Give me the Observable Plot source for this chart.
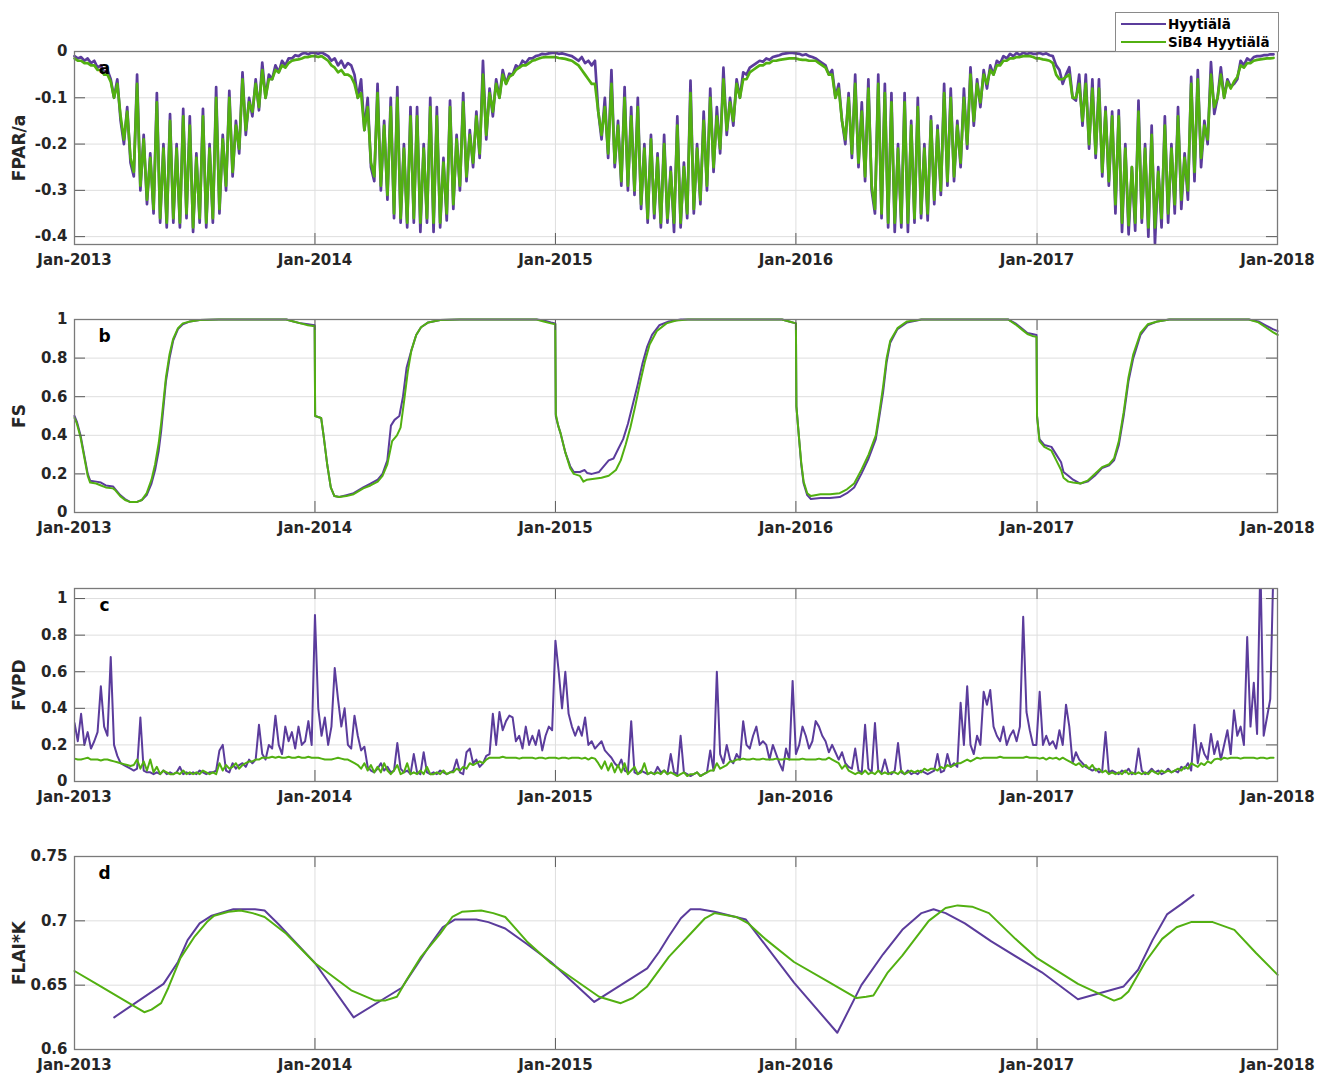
<!DOCTYPE html>
<html>
<head>
<meta charset="utf-8">
<script src="https://cdn.jsdelivr.net/npm/d3@7"></script>
<script src="https://cdn.jsdelivr.net/npm/@observablehq/plot@0.6"></script>
<style>
  html, body { margin: 0; padding: 0; background: #fff; }
  #page { position: relative; width: 1317px; height: 1074px; overflow: hidden; background: #fff; font-family: "DejaVu Sans", sans-serif; }
  .panel { position: absolute; left: 0; }
  #legend { position: absolute; left: 1115px; top: 12px; width: 162px; height: 38px; border: 1px solid #8a8a8a; background: #fff; z-index: 5; font: bold 13.5px "DejaVu Sans", sans-serif; color: #000; }
  .row { position: absolute; left: 0; height: 18px; }
  .sw { position: absolute; left: 5px; width: 45px; height: 0; border-top: 2px solid; }
  .lab { position: absolute; left: 52px; white-space: nowrap; line-height: 18px; }
</style>
</head>
<body>
<div id="page"></div>
<script>
// ---------------- data ----------------
const seriesNames = ["Hyytiälä", "SiB4 Hyytiälä"];
const colors = ["#5b3c9c", "#52b011"];
const yearTicks = [2013, 2014, 2015, 2016, 2017, 2018];
const stepDays = 5; // spacing of the sampled noisy series, starting 1 Jan 2013

// panel a: FPAR/a (5-day samples)
const fparObs = [
-0.01,-0.015,-0.012,-0.02,-0.015,-0.025, -0.02,-0.035,-0.03,-0.045,-0.04,-0.06, -0.1,-0.06,-0.15,-0.2,-0.12,-0.24,
-0.27,-0.05,-0.3,-0.18,-0.33,-0.22, -0.35,-0.09,-0.37,-0.2,-0.38,-0.135, -0.37,-0.2,-0.38,-0.124,-0.36,-0.14,
-0.39,-0.22,-0.37,-0.124,-0.38,-0.2, -0.37,-0.077,-0.35,-0.18,-0.3,-0.085, -0.27,-0.15,-0.22,-0.045,-0.18,-0.1,
-0.14,-0.06,-0.127,-0.024,-0.1,-0.05, -0.06,-0.03,-0.045,-0.02,-0.03,-0.015, -0.015,-0.008,-0.01,-0.005,-0.003,-0.006,-0.002,
-0.003,-0.005,-0.002,-0.006,-0.01,-0.02, -0.015,-0.03,-0.02,-0.035,-0.025,-0.03, -0.05,-0.1,-0.06,-0.17,-0.1,-0.25,
-0.28,-0.07,-0.3,-0.15,-0.32,-0.1, -0.36,-0.077,-0.37,-0.2,-0.38,-0.12, -0.37,-0.12,-0.39,-0.2,-0.37,-0.1,
-0.39,-0.12,-0.38,-0.23,-0.365,-0.106, -0.34,-0.18,-0.3,-0.09,-0.28,-0.17, -0.25,-0.13,-0.23,-0.02,-0.19,-0.08,
-0.14,-0.06,-0.1,-0.04,-0.07,-0.048, -0.05,-0.03,-0.035,-0.02,-0.025,-0.015, -0.015,-0.01,-0.008,-0.005,-0.006,-0.004,-0.003,
-0.003,-0.005,-0.004,-0.006,-0.008,-0.01, -0.015,-0.02,-0.012,-0.025,-0.02,-0.03, -0.02,-0.13,-0.19,-0.1,-0.23,-0.04,
-0.25,-0.15,-0.29,-0.077,-0.3,-0.12, -0.31,-0.1,-0.34,-0.2,-0.37,-0.18, -0.36,-0.22,-0.38,-0.18,-0.37,-0.25,
-0.39,-0.14,-0.38,-0.24,-0.36,-0.063, -0.35,-0.2,-0.33,-0.13,-0.3,-0.08, -0.26,-0.12,-0.22,-0.035,-0.18,-0.1,
-0.16,-0.06,-0.1,-0.045,-0.05,-0.035, -0.03,-0.025,-0.02,-0.022,-0.015,-0.018, -0.012,-0.01,-0.008,-0.005,-0.004,-0.003,-0.003,
-0.004,-0.005,-0.008,-0.006,-0.01,-0.012, -0.015,-0.02,-0.025,-0.03,-0.05,-0.04, -0.1,-0.07,-0.15,-0.2,-0.09,-0.23,
-0.05,-0.25,-0.11,-0.28,-0.06,-0.3, -0.35,-0.05,-0.36,-0.07,-0.38,-0.09, -0.39,-0.2,-0.38,-0.09,-0.39,-0.15,
-0.37,-0.1,-0.36,-0.2,-0.365,-0.14, -0.33,-0.16,-0.31,-0.07,-0.29,-0.08, -0.28,-0.15,-0.25,-0.08,-0.21,-0.034,
-0.16,-0.06,-0.12,-0.04,-0.08,-0.03, -0.05,-0.02,-0.026,-0.01,-0.015,-0.005, -0.01,-0.003,-0.008,-0.002,-0.006,-0.003,-0.005,
-0.005,-0.003,-0.006,-0.004,-0.008,-0.01, -0.03,-0.04,-0.07,-0.05,-0.034,-0.1, -0.106,-0.05,-0.16,-0.05,-0.21,-0.06,
-0.23,-0.06,-0.27,-0.12,-0.29,-0.13, -0.35,-0.127,-0.39,-0.2,-0.395,-0.25, -0.387,-0.106,-0.37,-0.2,-0.4,-0.16,
-0.415,-0.25,-0.38,-0.14,-0.37,-0.2, -0.35,-0.12,-0.34,-0.22,-0.32,-0.055, -0.28,-0.04,-0.25,-0.15,-0.2,-0.023,
-0.135,-0.1,-0.034,-0.1,-0.06,-0.077, -0.07,-0.06,-0.02,-0.03,-0.015,-0.02, -0.012,-0.01,-0.01,-0.008,-0.008,-0.006,-0.006
];
const fparSib = [
-0.015,-0.02,-0.02,-0.025,-0.025,-0.03, -0.03,-0.04,-0.04,-0.05,-0.05,-0.065, -0.1,-0.07,-0.14,-0.19,-0.13,-0.23,
-0.26,-0.07,-0.29,-0.19,-0.32,-0.23, -0.34,-0.11,-0.36,-0.21,-0.37,-0.15, -0.36,-0.21,-0.37,-0.14,-0.35,-0.16,
-0.38,-0.23,-0.36,-0.14,-0.37,-0.21, -0.36,-0.1,-0.34,-0.19,-0.29,-0.1, -0.26,-0.16,-0.21,-0.06,-0.17,-0.11,
-0.13,-0.07,-0.12,-0.04,-0.1,-0.06, -0.06,-0.04,-0.045,-0.03,-0.035,-0.025, -0.02,-0.018,-0.017,-0.015,-0.012,-0.012,-0.01,
-0.01,-0.012,-0.01,-0.015,-0.02,-0.03, -0.035,-0.045,-0.04,-0.05,-0.05,-0.055, -0.07,-0.1,-0.09,-0.17,-0.12,-0.24,
-0.27,-0.09,-0.29,-0.16,-0.31,-0.12, -0.35,-0.1,-0.36,-0.21,-0.37,-0.14, -0.36,-0.14,-0.37,-0.21,-0.36,-0.12,
-0.37,-0.14,-0.37,-0.24,-0.35,-0.12, -0.33,-0.19,-0.29,-0.11,-0.27,-0.18, -0.24,-0.14,-0.22,-0.05,-0.18,-0.09,
-0.13,-0.07,-0.1,-0.05,-0.07,-0.055, -0.05,-0.04,-0.035,-0.03,-0.03,-0.025, -0.02,-0.018,-0.015,-0.013,-0.012,-0.012,-0.012,
-0.012,-0.014,-0.015,-0.016,-0.018,-0.02, -0.025,-0.03,-0.04,-0.05,-0.06,-0.07, -0.07,-0.13,-0.18,-0.12,-0.22,-0.07,
-0.24,-0.16,-0.28,-0.1,-0.29,-0.14, -0.3,-0.12,-0.33,-0.21,-0.36,-0.19, -0.35,-0.23,-0.37,-0.2,-0.36,-0.26,
-0.37,-0.16,-0.37,-0.25,-0.35,-0.09, -0.34,-0.21,-0.32,-0.15,-0.29,-0.1, -0.25,-0.14,-0.21,-0.06,-0.17,-0.11,
-0.15,-0.07,-0.1,-0.06,-0.06,-0.045, -0.04,-0.035,-0.03,-0.03,-0.025,-0.025, -0.02,-0.02,-0.018,-0.017,-0.016,-0.015,-0.015,
-0.015,-0.017,-0.018,-0.018,-0.02,-0.02, -0.02,-0.025,-0.03,-0.035,-0.05,-0.05, -0.1,-0.08,-0.15,-0.19,-0.1,-0.22,
-0.07,-0.24,-0.13,-0.27,-0.08,-0.29, -0.34,-0.07,-0.35,-0.09,-0.37,-0.11, -0.37,-0.21,-0.37,-0.11,-0.37,-0.16,
-0.36,-0.12,-0.35,-0.21,-0.35,-0.15, -0.32,-0.17,-0.3,-0.09,-0.28,-0.1, -0.27,-0.16,-0.24,-0.1,-0.2,-0.05,
-0.15,-0.07,-0.11,-0.05,-0.07,-0.04, -0.05,-0.03,-0.03,-0.02,-0.02,-0.015, -0.015,-0.012,-0.012,-0.01,-0.01,-0.01,-0.012,
-0.015,-0.015,-0.017,-0.018,-0.02,-0.025, -0.05,-0.06,-0.06,-0.055,-0.05,-0.1, -0.1,-0.07,-0.15,-0.07,-0.2,-0.08,
-0.22,-0.08,-0.26,-0.13,-0.28,-0.14, -0.33,-0.14,-0.37,-0.21,-0.375,-0.25, -0.37,-0.13,-0.36,-0.21,-0.38,-0.18,
-0.38,-0.26,-0.36,-0.16,-0.35,-0.21, -0.33,-0.14,-0.32,-0.23,-0.3,-0.07, -0.26,-0.06,-0.23,-0.16,-0.19,-0.05,
-0.12,-0.1,-0.05,-0.1,-0.065,-0.08, -0.065,-0.055,-0.03,-0.035,-0.025,-0.025, -0.02,-0.018,-0.017,-0.016,-0.015,-0.015,-0.014
];

// panel b: FS (decimal year, value)
const fsObsYear = [2013,2013.01,2013.025,2013.04,2013.055,2013.065,2013.09,2013.11,2013.13,2013.16,2013.17,2013.19,2013.21,2013.23,2013.26,2013.28,2013.3,2013.32,2013.335,2013.35,2013.36,2013.37,2013.38,2013.395,2013.41,2013.43,2013.45,2013.48,2013.52,2013.6,2013.88,2013.91,2013.94,2013.97,2013.998,
2014,2014.025,2014.035,2014.05,2014.065,2014.08,2014.1,2014.13,2014.16,2014.2,2014.23,2014.26,2014.28,2014.3,2014.315,2014.33,2014.35,2014.365,2014.38,2014.4,2014.42,2014.44,2014.47,2014.52,2014.6,2014.92,2014.95,2014.98,2014.998,
2015,2015.01,2015.02,2015.04,2015.06,2015.075,2015.1,2015.12,2015.13,2015.15,2015.18,2015.2,2015.22,2015.24,2015.26,2015.28,2015.3,2015.32,2015.34,2015.36,2015.38,2015.4,2015.43,2015.47,2015.52,2015.94,2015.97,2015.998,
2016,2016.01,2016.02,2016.03,2016.045,2016.06,2016.1,2016.14,2016.18,2016.21,2016.24,2016.27,2016.3,2016.33,2016.345,2016.36,2016.375,2016.39,2016.42,2016.46,2016.52,2016.88,2016.91,2016.94,2016.96,2016.98,2016.998,
2017,2017.01,2017.03,2017.06,2017.08,2017.1,2017.11,2017.13,2017.15,2017.18,2017.21,2017.24,2017.27,2017.3,2017.32,2017.34,2017.36,2017.38,2017.4,2017.43,2017.46,2017.5,2017.55,2017.88,2017.92,2017.95,2017.98,2018];
const fsObs = [0.5,0.47,0.4,0.3,0.2,0.165,0.16,0.155,0.14,0.135,0.12,0.09,0.07,0.055,0.055,0.065,0.09,0.15,0.22,0.32,0.42,0.55,0.68,0.8,0.89,0.95,0.975,0.99,0.997,1,1,0.99,0.98,0.975,0.97,
0.5,0.49,0.4,0.25,0.13,0.085,0.08,0.09,0.1,0.13,0.15,0.17,0.2,0.27,0.45,0.48,0.5,0.6,0.75,0.84,0.92,0.96,0.985,0.997,1,1,0.995,0.985,0.98,
0.5,0.45,0.41,0.31,0.24,0.21,0.21,0.22,0.205,0.2,0.21,0.24,0.27,0.28,0.33,0.38,0.46,0.56,0.66,0.77,0.86,0.92,0.97,0.99,1,1,0.99,0.98,
0.55,0.4,0.25,0.15,0.09,0.07,0.075,0.075,0.08,0.1,0.13,0.2,0.28,0.38,0.5,0.62,0.78,0.88,0.95,0.985,1,1,0.98,0.95,0.93,0.925,0.92,
0.5,0.38,0.35,0.34,0.3,0.26,0.21,0.19,0.17,0.15,0.16,0.19,0.23,0.245,0.27,0.35,0.5,0.68,0.8,0.92,0.97,0.99,1,1,0.99,0.97,0.95,0.94];
const fsSibYear = [2013,2013.01,2013.025,2013.04,2013.055,2013.065,2013.09,2013.11,2013.13,2013.16,2013.17,2013.19,2013.21,2013.23,2013.26,2013.28,2013.3,2013.32,2013.335,2013.35,2013.36,2013.37,2013.38,2013.395,2013.41,2013.43,2013.45,2013.48,2013.52,2013.6,2013.88,2013.91,2013.94,2013.97,2013.998,
2014,2014.025,2014.035,2014.05,2014.065,2014.08,2014.1,2014.13,2014.16,2014.2,2014.23,2014.26,2014.28,2014.3,2014.32,2014.34,2014.355,2014.37,2014.385,2014.4,2014.42,2014.44,2014.47,2014.52,2014.6,2014.92,2014.95,2014.98,2014.998,
2015,2015.01,2015.02,2015.04,2015.06,2015.075,2015.1,2015.115,2015.13,2015.16,2015.19,2015.22,2015.25,2015.27,2015.29,2015.31,2015.33,2015.35,2015.37,2015.39,2015.42,2015.46,2015.5,2015.55,2015.94,2015.97,2015.998,
2016,2016.01,2016.02,2016.03,2016.045,2016.06,2016.1,2016.14,2016.18,2016.21,2016.24,2016.27,2016.3,2016.33,2016.345,2016.36,2016.375,2016.39,2016.42,2016.46,2016.52,2016.88,2016.91,2016.94,2016.96,2016.98,2016.998,
2017,2017.01,2017.03,2017.06,2017.08,2017.1,2017.11,2017.13,2017.15,2017.18,2017.21,2017.24,2017.27,2017.3,2017.32,2017.34,2017.36,2017.38,2017.4,2017.43,2017.46,2017.5,2017.55,2017.88,2017.92,2017.95,2017.98,2018];
const fsSib = [0.49,0.46,0.39,0.29,0.19,0.155,0.15,0.14,0.13,0.125,0.115,0.085,0.065,0.055,0.055,0.065,0.1,0.17,0.25,0.36,0.46,0.58,0.7,0.82,0.9,0.955,0.98,0.99,0.997,1,1,0.99,0.98,0.97,0.965,
0.5,0.49,0.4,0.25,0.13,0.085,0.08,0.085,0.095,0.125,0.14,0.16,0.19,0.25,0.37,0.4,0.44,0.58,0.73,0.84,0.92,0.96,0.985,0.997,1,1,0.99,0.98,0.975,
0.51,0.45,0.41,0.31,0.23,0.2,0.19,0.16,0.17,0.175,0.18,0.19,0.22,0.27,0.35,0.44,0.55,0.67,0.78,0.87,0.94,0.98,0.995,1,1,0.99,0.98,
0.55,0.4,0.26,0.16,0.1,0.085,0.095,0.095,0.1,0.12,0.15,0.22,0.3,0.4,0.52,0.65,0.8,0.89,0.955,0.99,1,1,0.975,0.945,0.925,0.915,0.91,
0.5,0.37,0.34,0.32,0.27,0.22,0.18,0.16,0.155,0.15,0.165,0.2,0.235,0.25,0.28,0.37,0.52,0.7,0.82,0.93,0.975,0.99,1,1,0.985,0.96,0.935,0.92];

// panel c: FVPD (5-day samples)
const fvpdObs = [
0.32,0.22,0.37,0.2,0.27,0.18, 0.22,0.27,0.52,0.3,0.25,0.68, 0.2,0.14,0.1,0.09,0.08,0.07,
0.06,0.07,0.35,0.06,0.05,0.05, 0.04,0.05,0.04,0.06,0.04,0.05, 0.04,0.05,0.08,0.04,0.05,0.04,
0.05,0.04,0.06,0.05,0.04,0.05, 0.05,0.06,0.17,0.2,0.06,0.05, 0.1,0.07,0.09,0.1,0.08,0.12,
0.1,0.12,0.31,0.15,0.12,0.2, 0.18,0.36,0.2,0.15,0.3,0.22, 0.27,0.18,0.3,0.2,0.22,0.33,0.2,
0.91,0.4,0.25,0.35,0.2,0.3, 0.62,0.45,0.3,0.4,0.2,0.18, 0.36,0.25,0.17,0.19,0.08,0.06,
0.05,0.07,0.1,0.06,0.08,0.05, 0.06,0.21,0.07,0.05,0.06,0.04, 0.15,0.05,0.04,0.16,0.05,0.04,
0.05,0.04,0.06,0.05,0.04,0.05, 0.06,0.12,0.05,0.04,0.16,0.18, 0.1,0.12,0.08,0.1,0.14,0.15,
0.37,0.2,0.38,0.28,0.33,0.36, 0.35,0.22,0.25,0.18,0.3,0.2, 0.25,0.2,0.28,0.17,0.25,0.3,0.28,
0.77,0.6,0.4,0.6,0.37,0.3, 0.25,0.3,0.25,0.35,0.2,0.22, 0.18,0.2,0.22,0.17,0.15,0.13,
0.1,0.08,0.12,0.06,0.05,0.33, 0.05,0.04,0.06,0.05,0.04,0.05, 0.04,0.08,0.05,0.06,0.04,0.15,
0.05,0.04,0.25,0.05,0.04,0.03, 0.04,0.05,0.03,0.04,0.05,0.17, 0.06,0.6,0.15,0.1,0.2,0.12,
0.1,0.15,0.12,0.33,0.2,0.18, 0.25,0.3,0.2,0.22,0.2,0.12, 0.2,0.15,0.1,0.06,0.18,0.12,0.55,
0.15,0.2,0.3,0.25,0.18,0.22, 0.33,0.3,0.25,0.22,0.16,0.2, 0.16,0.12,0.16,0.1,0.08,0.07,
0.18,0.06,0.05,0.31,0.07,0.05, 0.32,0.06,0.05,0.12,0.05,0.04, 0.06,0.21,0.05,0.04,0.06,0.04,
0.05,0.04,0.06,0.05,0.04,0.05, 0.06,0.15,0.05,0.06,0.15,0.08, 0.1,0.08,0.43,0.2,0.52,0.2,
0.15,0.25,0.2,0.49,0.42,0.5, 0.3,0.25,0.22,0.3,0.2,0.25, 0.28,0.22,0.3,0.9,0.38,0.28,0.2,
0.2,0.49,0.2,0.25,0.2,0.22, 0.18,0.28,0.2,0.42,0.3,0.1, 0.16,0.12,0.1,0.08,0.07,0.06,
0.07,0.05,0.06,0.27,0.05,0.06, 0.05,0.04,0.06,0.05,0.07,0.04, 0.05,0.18,0.06,0.04,0.05,0.07,
0.05,0.06,0.04,0.05,0.07,0.05, 0.06,0.05,0.08,0.07,0.1,0.06, 0.31,0.1,0.21,0.15,0.12,0.26,
0.15,0.22,0.12,0.2,0.28,0.15, 0.39,0.25,0.3,0.2,0.79,0.3, 0.54,0.26,1.2,0.25,0.35,0.45,1.2
];
const fvpdSib = [
0.125,0.12,0.12,0.125,0.13,0.12, 0.12,0.12,0.115,0.12,0.12,0.115, 0.11,0.105,0.1,0.095,0.09,0.085,
0.09,0.12,0.07,0.11,0.06,0.12, 0.05,0.08,0.04,0.06,0.05,0.04, 0.04,0.05,0.04,0.06,0.04,0.05,
0.04,0.05,0.04,0.06,0.05,0.04, 0.05,0.04,0.1,0.06,0.09,0.07, 0.08,0.1,0.07,0.09,0.1,0.11,
0.11,0.12,0.12,0.13,0.13,0.13, 0.135,0.13,0.135,0.13,0.13,0.135, 0.13,0.13,0.135,0.13,0.13,0.135,0.13,
0.13,0.13,0.125,0.12,0.12,0.12, 0.125,0.13,0.125,0.12,0.12,0.11, 0.1,0.09,0.07,0.1,0.06,0.09,
0.05,0.08,0.05,0.1,0.06,0.04, 0.06,0.09,0.04,0.05,0.1,0.04, 0.05,0.04,0.06,0.04,0.08,0.04,
0.04,0.05,0.04,0.06,0.04,0.05, 0.05,0.07,0.06,0.08,0.07,0.1, 0.09,0.1,0.11,0.1,0.12,0.13,
0.13,0.13,0.13,0.135,0.13,0.13, 0.13,0.13,0.125,0.13,0.13,0.13, 0.13,0.125,0.13,0.13,0.125,0.13,0.13,
0.13,0.125,0.13,0.13,0.125,0.13, 0.13,0.13,0.125,0.13,0.12,0.13, 0.125,0.1,0.07,0.11,0.06,0.1,
0.05,0.09,0.05,0.1,0.04,0.06, 0.08,0.04,0.05,0.1,0.04,0.05, 0.04,0.05,0.04,0.06,0.04,0.05,
0.04,0.03,0.04,0.05,0.03,0.04, 0.04,0.05,0.03,0.04,0.05,0.06, 0.06,0.1,0.07,0.08,0.09,0.11,
0.11,0.12,0.12,0.125,0.12,0.12, 0.125,0.12,0.12,0.125,0.12,0.12, 0.12,0.125,0.12,0.12,0.125,0.12,0.12,
0.12,0.12,0.125,0.12,0.12,0.12, 0.12,0.125,0.12,0.12,0.13,0.12, 0.11,0.1,0.07,0.09,0.06,0.05,
0.04,0.05,0.04,0.06,0.04,0.05, 0.04,0.06,0.04,0.05,0.04,0.05, 0.05,0.04,0.06,0.04,0.05,0.06,
0.05,0.06,0.05,0.07,0.06,0.07, 0.07,0.06,0.08,0.07,0.09,0.08, 0.09,0.1,0.1,0.11,0.12,0.11,
0.12,0.13,0.125,0.13,0.13,0.13, 0.13,0.13,0.135,0.13,0.13,0.13, 0.13,0.13,0.13,0.13,0.135,0.13,0.13,
0.13,0.125,0.13,0.12,0.13,0.125, 0.13,0.12,0.13,0.12,0.11,0.1, 0.09,0.1,0.08,0.09,0.07,0.09,
0.06,0.07,0.05,0.06,0.04,0.05, 0.04,0.05,0.04,0.06,0.04,0.05, 0.04,0.05,0.04,0.05,0.04,0.06,
0.05,0.04,0.06,0.05,0.06,0.05, 0.06,0.07,0.06,0.08,0.07,0.1, 0.09,0.08,0.1,0.09,0.11,0.1,
0.12,0.125,0.12,0.13,0.125,0.13, 0.13,0.13,0.125,0.13,0.13,0.13, 0.13,0.125,0.13,0.13,0.125,0.13,0.13
];

// panel d: FLAI*K (decimal year, value)
const flaiObsYear = [2013.165,2013.37,2013.43,2013.47,2013.52,2013.57,2013.66,2013.75,2013.79,2013.85,2013.91,2014,2014.16,2014.36,2014.42,2014.48,2014.53,2014.58,2014.67,2014.72,2014.79,2014.88,2014.98,2015.16,2015.38,2015.43,2015.47,2015.52,2015.56,2015.6,2015.66,2015.79,2015.99,2016.17,2016.27,2016.36,2016.44,2016.52,2016.57,2016.62,2016.7,2016.81,2017.02,2017.17,2017.36,2017.42,2017.48,2017.54,2017.6,2017.65];
const flaiObs = [0.625,0.651,0.668,0.685,0.698,0.704,0.709,0.709,0.708,0.697,0.685,0.667,0.625,0.648,0.665,0.682,0.695,0.701,0.701,0.699,0.694,0.682,0.668,0.637,0.663,0.676,0.688,0.702,0.709,0.709,0.707,0.701,0.652,0.613,0.65,0.674,0.693,0.706,0.709,0.706,0.698,0.684,0.66,0.639,0.649,0.662,0.685,0.705,0.713,0.72];
const flaiSibYear = [2013,2013.1,2013.2,2013.29,2013.32,2013.36,2013.39,2013.44,2013.5,2013.55,2013.58,2013.64,2013.69,2013.74,2013.79,2013.88,2014,2014.15,2014.25,2014.29,2014.34,2014.38,2014.44,2014.52,2014.57,2014.61,2014.69,2014.74,2014.79,2014.88,2014.98,2015.18,2015.27,2015.32,2015.38,2015.47,2015.56,2015.62,2015.66,2015.75,2015.8,2015.87,2015.99,2016.13,2016.25,2016.29,2016.32,2016.38,2016.44,2016.55,2016.62,2016.67,2016.73,2016.8,2016.91,2017,2017.17,2017.32,2017.35,2017.38,2017.45,2017.52,2017.58,2017.64,2017.73,2017.82,2017.91,2018];
const flaiSib = [0.661,0.65,0.639,0.629,0.631,0.636,0.648,0.671,0.688,0.699,0.704,0.707,0.708,0.706,0.703,0.69,0.667,0.646,0.638,0.638,0.641,0.654,0.672,0.69,0.703,0.707,0.708,0.706,0.703,0.684,0.667,0.641,0.636,0.64,0.649,0.672,0.69,0.702,0.706,0.703,0.698,0.686,0.668,0.653,0.64,0.641,0.642,0.66,0.673,0.7,0.71,0.712,0.711,0.706,0.686,0.671,0.651,0.638,0.64,0.645,0.668,0.686,0.695,0.699,0.699,0.693,0.675,0.658];

// ---------------- helpers ----------------
const DAY = 864e5;
const t0 = Date.UTC(2013, 0, 1);
const sampled = (vals) => vals.map((v, i) => ({date: new Date(t0 + i * stepDays * DAY), value: v}));
const byYear = (ts, vs) => ts.map((t, i) => ({date: new Date(t0 + (t - 2013) * 365.25 * DAY), value: vs[i]}));
const xTicks = yearTicks.map(y => new Date(Date.UTC(y, 0, 1)));

const W = 1317, ML = 74, MR = 40, MT = 20, MB = 37, H = 250;
const PW = W - ML - MR, PH = H - MT - MB;
const FONT = "DejaVu Sans";

function panel({top, yDomain, yTicks, yLabel, letter, data, clip = false, lineWidth = 2}) {
  const lines = data.map((d, i) => Plot.line(d, {x: "date", y: "value", stroke: colors[i], strokeWidth: lineWidth, clip}));
  const chart = Plot.plot({
    width: W, height: H,
    marginLeft: ML, marginRight: MR, marginTop: MT, marginBottom: MB,
    x: {type: "utc", domain: [xTicks[0], xTicks[xTicks.length - 1]]},
    y: {domain: yDomain},
    style: {fontFamily: FONT, fontSize: "15px", fontWeight: "bold", color: "#262626", background: "transparent", overflow: "visible"},
    marks: [
      Plot.gridY(yTicks, {stroke: "#dedede", strokeOpacity: 1}),
      Plot.gridX(xTicks, {stroke: "#dedede", strokeOpacity: 1}),
      ...lines,
      Plot.tickY(yTicks, {y: d => d, insetRight: PW - 11, stroke: "#5a5a5a"}),
      Plot.tickY(yTicks, {y: d => d, insetLeft: PW - 11, stroke: "#5a5a5a"}),
      Plot.tickX(xTicks, {x: d => d, insetTop: PH - 11, stroke: "#5a5a5a"}),
      Plot.tickX(xTicks, {x: d => d, insetBottom: PH - 11, stroke: "#5a5a5a"}),
      Plot.frame({stroke: "#7a7a7a", strokeWidth: 1.3}),
      Plot.axisX(xTicks, {tickSize: 0, tickPadding: 10, label: null, tickFormat: d => "Jan-" + d.getUTCFullYear(), fontSize: 15, fontWeight: "bold"}),
      Plot.axisY(yTicks, {tickSize: 0, tickPadding: 7, label: null, tickFormat: d => String(d), fontSize: 15, fontWeight: "bold"}),
      Plot.text([yLabel], {text: d => d, frameAnchor: "left", dx: -55, rotate: -90, textAnchor: "middle", lineAnchor: "middle", fontSize: 17, fontWeight: "bold", fill: "#262626"}),
      Plot.text([letter], {text: d => d, frameAnchor: "top-left", dx: 30, dy: 17, textAnchor: "middle", lineAnchor: "middle", fontSize: 17, fontWeight: "bold", fill: "#000"})
    ]
  });
  const wrap = document.createElement("div");
  wrap.className = "panel";
  wrap.style.top = top + "px";
  wrap.appendChild(chart);
  document.getElementById("page").appendChild(wrap);
}

panel({top: 31, yDomain: [-0.417, 0], yTicks: [-0.4, -0.3, -0.2, -0.1, 0], yLabel: "FPAR/a", letter: "a",
  data: [sampled(fparObs), sampled(fparSib)], lineWidth: 2.7});
panel({top: 299, yDomain: [0, 1], yTicks: [0, 0.2, 0.4, 0.6, 0.8, 1], yLabel: "FS", letter: "b",
  data: [byYear(fsObsYear, fsObs), byYear(fsSibYear, fsSib)]});
panel({top: 568, yDomain: [0, 1.055], yTicks: [0, 0.2, 0.4, 0.6, 0.8, 1], yLabel: "FVPD", letter: "c",
  data: [sampled(fvpdObs), sampled(fvpdSib)], clip: true});
panel({top: 836, yDomain: [0.6, 0.75], yTicks: [0.6, 0.65, 0.7, 0.75], yLabel: "FLAI*K", letter: "d",
  data: [byYear(flaiObsYear, flaiObs), byYear(flaiSibYear, flaiSib)]});

// legend
const legend = document.createElement("div");
legend.id = "legend";
seriesNames.forEach((name, i) => {
  const row = document.createElement("div");
  row.className = "row";
  row.style.top = (2 + i * 18) + "px";
  row.style.width = "100%";
  const sw = document.createElement("div");
  sw.className = "sw";
  sw.style.borderColor = colors[i];
  sw.style.top = "8px";
  const lab = document.createElement("div");
  lab.className = "lab";
  lab.textContent = name;
  row.appendChild(sw);
  row.appendChild(lab);
  legend.appendChild(row);
});
document.getElementById("page").appendChild(legend);
</script>
</body>
</html>
